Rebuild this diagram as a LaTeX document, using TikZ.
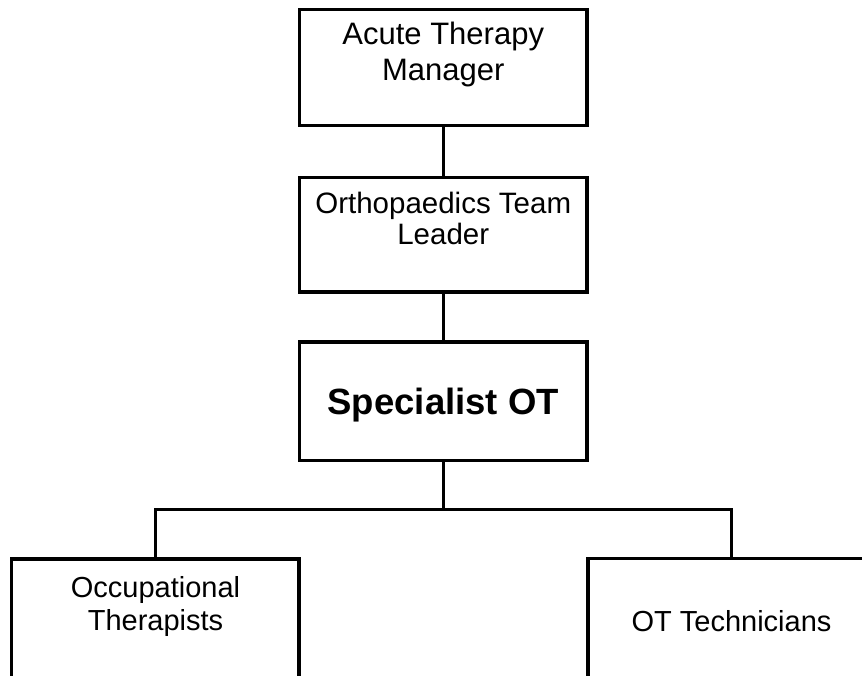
\documentclass[tikz,border=0pt]{standalone}
\usepackage{fontspec}
\setmainfont{Liberation Sans}
\usetikzlibrary{calc}
\tikzset{
  box/.style={draw=black, line width=3.6pt, fill=white, inner sep=0pt},
  link/.style={draw=black, line width=3pt, line join=miter},
  lbl/.style={align=center, inner sep=0pt, anchor=base, text=black},
}
\begin{document}
\begin{tikzpicture}[x=1pt,y=-1pt]
\useasboundingbox (0,0) rectangle (862,676);
\begin{scope}
\clip (0,0) rectangle (862,676);

% junction bus between the specialist and the two teams
\coordinate (bus) at (0,509.5);

% boxes of the chart
\node[box, minimum width=287.5pt, minimum height=116pt]   (atm)  at (443.25,67.5)  {};
\node[box, minimum width=287.5pt, minimum height=114.5pt] (otl)  at (443.25,234.75) {};
\node[box, minimum width=287.5pt, minimum height=118.3pt] (sot)  at (443.25,401.2) {};
\node[box, minimum width=287.4pt, minimum height=241.3pt] (occ)  at (155,679.35) {};
\node[box, minimum width=286.4pt, minimum height=241.7pt] (tech) at (731,679.15) {};

% connectors
\draw[link] (atm.south) -- (otl.north);
\draw[link] (otl.south) -- (sot.north);
\draw[link] (sot.south) -- (sot.south |- bus);
\draw[link] (occ.north) -- (occ.north |- bus) -- (tech.north |- bus) -- (tech.north);

% labels (base anchor sits on the last line's baseline)
\node[lbl, font=\fontsize{31pt}{36pt}\selectfont] (atmt) at (443.25,80.3)
  {Acute Therapy\\Manager};
\node[lbl, font=\fontsize{29.5pt}{30.5pt}\selectfont] (otlt) at (443.25,244.5)
  {Orthopaedics Team\\Leader};
\node[lbl, font=\bfseries\fontsize{36.5pt}{40pt}\selectfont] (sott) at (443.25,414)
  {Specialist OT};
\node[lbl, font=\fontsize{29pt}{32.7pt}\selectfont] (occt) at (155.5,630)
  {Occupational\\Therapists};
\node[lbl, font=\fontsize{29pt}{33pt}\selectfont] (techt) at (731.5,631)
  {OT Technicians};
\end{scope}
\end{tikzpicture}
\end{document}
